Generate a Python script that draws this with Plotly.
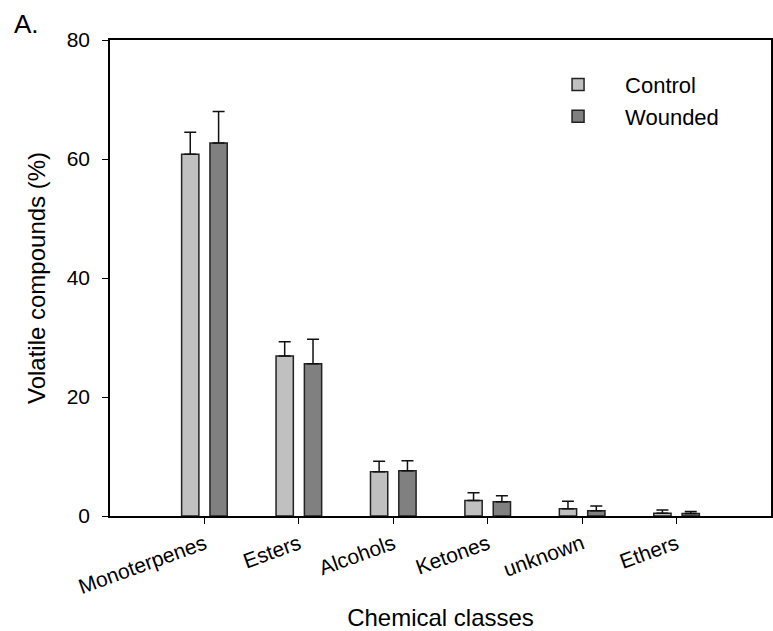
import plotly.graph_objects as go

categories = ["Monoterpenes", "Esters", "Alcohols", "Ketones", "unknown", "Ethers"]
control = [60.8, 26.9, 7.45, 2.6, 1.2, 0.45]
control_err = [3.7, 2.4, 1.75, 1.3, 1.3, 0.55]
wounded = [62.7, 25.6, 7.6, 2.4, 0.9, 0.4]
wounded_err = [5.3, 4.1, 1.7, 1.0, 0.8, 0.35]

FONT = "Liberation Sans, Arial, sans-serif"

fig = go.Figure()
fig.add_trace(go.Bar(
    name="Control", x=categories, y=control,
    marker=dict(color="#c0c0c0", line=dict(color="#222222", width=1.5)),
    error_y=dict(type="data", symmetric=False, array=control_err,
                 arrayminus=[0] * len(control_err), color="#111111",
                 thickness=1.5, width=6),
))
fig.add_trace(go.Bar(
    name="Wounded", x=categories, y=wounded,
    marker=dict(color="#808080", line=dict(color="#222222", width=1.5)),
    error_y=dict(type="data", symmetric=False, array=wounded_err,
                 arrayminus=[0] * len(wounded_err), color="#111111",
                 thickness=1.5, width=6),
))

fig.update_layout(
    width=773, height=631,
    margin=dict(l=110, r=2, t=40, b=115),
    paper_bgcolor="white", plot_bgcolor="white",
    font=dict(family=FONT, size=20, color="black"),
    barmode="group", bargap=0.40, bargroupgap=0.39,
    showlegend=True,
    legend=dict(x=0.637, y=0.95, xanchor="left", yanchor="top",
                bgcolor="rgba(0,0,0,0)", itemwidth=84,
                font=dict(family=FONT, size=22), tracegroupgap=0),
    annotations=[dict(text="A.", xref="paper", yref="paper", x=-0.148, y=1.07,
                      xanchor="left", yanchor="top", showarrow=False,
                      font=dict(family=FONT, size=26))],
)
fig.update_xaxes(
    range=[-1, 6], showline=True, linecolor="black", linewidth=1.5, mirror=True,
    ticks="outside", ticklen=6, tickcolor="black", tickangle=-20,
    showgrid=False, tickfont=dict(size=21), automargin=False,
    title=dict(text="Chemical classes", font=dict(size=24), standoff=18),
)
fig.update_yaxes(
    range=[0, 80], dtick=20, showline=True, linecolor="black", linewidth=1.5,
    mirror=True, ticks="outside", ticklen=6, tickcolor="black",
    showgrid=False, zeroline=False, tickfont=dict(size=21), automargin=False,
    ticklabelstandoff=8,
    title=dict(text="Volatile compounds (%)", font=dict(size=24), standoff=14),
)

fig.write_html("out.html")
